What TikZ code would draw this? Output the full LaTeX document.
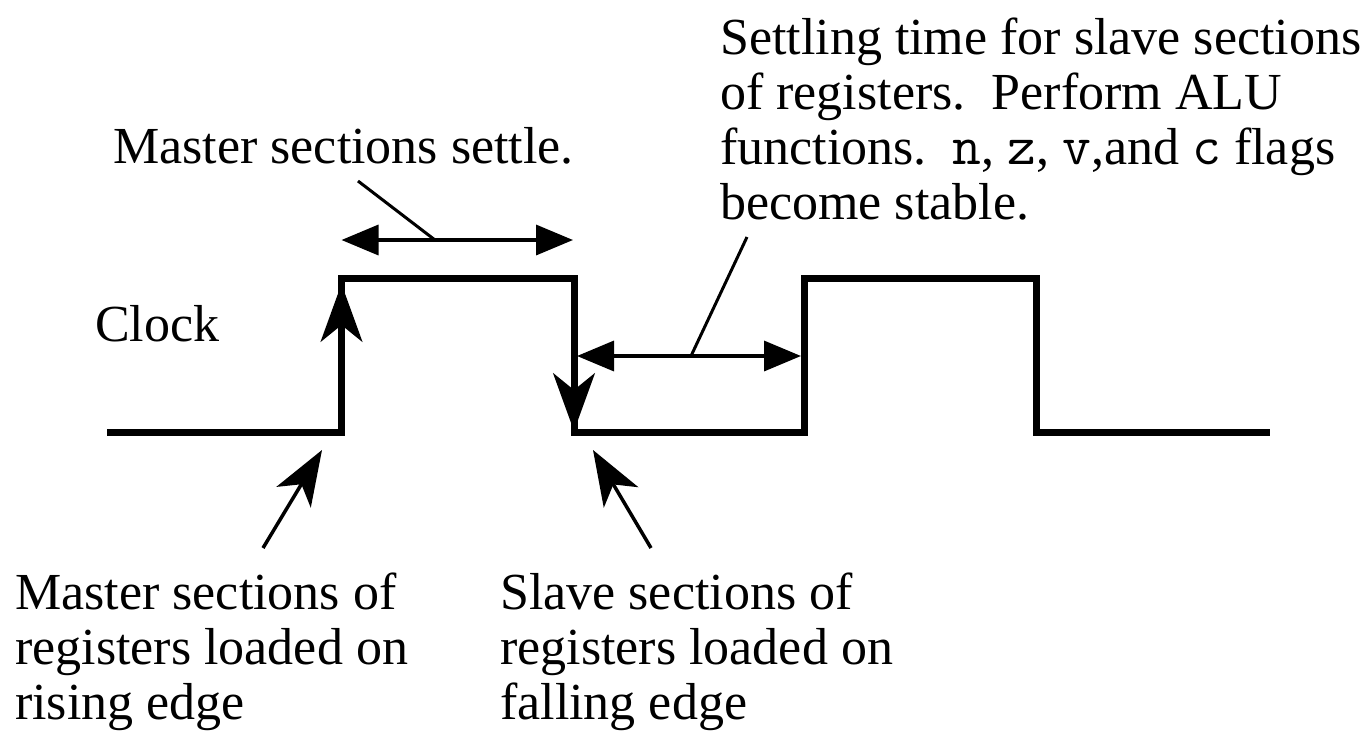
\documentclass[tikz,border=0pt]{standalone}
\usepackage{fontspec}
\setmainfont{Liberation Serif}
\usetikzlibrary{arrows.meta}

% flag letters in a typewriter face
\newcommand{\flagname}[1]{{\fontsize{56}{55}\selectfont\ttfamily #1}}

\begin{document}
\begin{tikzpicture}[x=1pt,y=-1pt,
  label/.style={inner sep=0pt, anchor=north west, align=left,
                font=\fontsize{52}{55}\selectfont},
  wave/.style={line width=7pt, line join=miter},
  edgetip/.style={line width=3pt, -{Stealth[length=58pt,width=42pt,inset=17pt]}},
  span/.style={line width=3.5pt,
               {Triangle[length=37pt,width=30pt]}-{Triangle[length=37pt,width=30pt]}},
  leader/.style={line width=3pt},
  pointer/.style={line width=3.5pt, -{Stealth[length=55pt,width=40pt,inset=15pt]}},
]
\useasboundingbox (0,0) rectangle (1360,732);
\fill[white] (0,0) rectangle (1360,732);

% clock waveform corners
\coordinate (s0) at (107,432);
\coordinate (r1b) at (341.5,432);
\coordinate (r1t) at (341.5,278);
\coordinate (f1t) at (574,278);
\coordinate (f1b) at (574,432);
\coordinate (r2b) at (804.5,432);
\coordinate (r2t) at (804.5,278);
\coordinate (f2t) at (1036,278);
\coordinate (f2b) at (1036,432);
\coordinate (e0) at (1270,432);

\draw[wave] (s0) -- (r1b) -- (r1t) -- (f1t) -- (f1b) -- (r2b) -- (r2t) -- (f2t) -- (f2b) -- (e0);

% arrowheads on the active clock edges
\coordinate (uptip) at (341.5,284);
\coordinate (downtip) at (574,431);
\draw[edgetip] (r1b) -- (uptip);
\draw[edgetip] (f1t) -- (downtip);

% labels
\node[label] (clk) at (95,305) {Clock};
\node[label] (mset) at (113,127) {Master sections settle.};
\node[label] (sset) at (720,18) {Settling time for slave sections\\
  of registers.\ \ Perform ALU\\
  functions.\ \ \flagname{n}, \flagname{z}, \flagname{v},and \flagname{c} flags\\
  become stable.};
\node[label] (mload) at (15,573) {Master sections of\\registers loaded on\\rising edge};
\node[label] (sload) at (500,573) {Slave sections of\\registers loaded on\\falling edge};

% time spans
\coordinate (ma) at (341.5,240);
\coordinate (mb) at (573,240);
\coordinate (sa) at (577,356);
\coordinate (sb) at (801,356);
\draw[span] (ma) -- (mb);
\draw[span] (sa) -- (sb);

% leaders from the labels to the spans
\coordinate (ml0) at (358,181);
\coordinate (ml1) at (435,240);
\coordinate (sl0) at (747,237);
\coordinate (sl1) at (691,356);
\draw[leader] (ml0) -- (ml1);
\draw[leader] (sl0) -- (sl1);

% pointers to the clock edges
\coordinate (mp0) at (263,548);
\coordinate (mp1) at (322,450);
\coordinate (sp0) at (651,548);
\coordinate (sp1) at (593,450);
\draw[pointer] (mp0) -- (mp1);
\draw[pointer] (sp0) -- (sp1);
\end{tikzpicture}
\end{document}
